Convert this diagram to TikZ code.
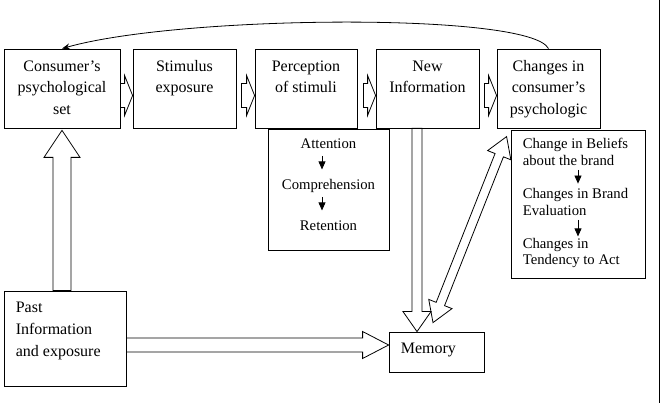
\documentclass[tikz,border=0pt]{standalone}
\usepackage{fontspec}
\setmainfont{Liberation Serif}
\usetikzlibrary{calc,arrows.meta}
\newcommand{\stA}{\rule{0pt}{12pt}}
\newcommand{\stB}{\rule{0pt}{11pt}}
% single-headed hollow block arrow: from, to, shaft half width, head half width, head length
\newcommand{\blkarrow}[5]{%
  \coordinate (bahb) at ($(#2)!#5!(#1)$);
  \draw[blockarrow] ($(#1)!#3!90:(#2)$) -- ($(bahb)!#3!90:(#2)$) -- ($(bahb)!#4!90:(#2)$) -- (#2)
    -- ($(bahb)!#4!-90:(#2)$) -- ($(bahb)!#3!-90:(#2)$) -- ($(#1)!#3!-90:(#2)$) -- cycle;
}
% double-headed hollow block arrow
\newcommand{\dblarrow}[5]{%
  \coordinate (dbha) at ($(#1)!#5!(#2)$);
  \coordinate (dbhb) at ($(#2)!#5!(#1)$);
  \draw[blockarrow] (#1) -- ($(dbha)!#4!90:(#2)$) -- ($(dbha)!#3!90:(#2)$) -- ($(dbhb)!#3!90:(#2)$)
    -- ($(dbhb)!#4!90:(#2)$) -- (#2) -- ($(dbhb)!#4!-90:(#2)$) -- ($(dbhb)!#3!-90:(#2)$)
    -- ($(dbha)!#3!-90:(#2)$) -- ($(dbha)!#4!-90:(#2)$) -- cycle;
}
\begin{document}
\begin{tikzpicture}[x=1pt,y=-1pt,
  mybox/.style={draw, line width=0.8pt, inner sep=0pt},
  ttlc/.style={anchor=north, align=center, inner sep=0pt, font=\fontsize{16}{21.5}\selectfont},
  ttll/.style={anchor=north west, align=left, inner sep=0pt, font=\fontsize{16}{22}\selectfont},
  subc/.style={anchor=base, inner sep=0pt, text height=10pt, text depth=3pt, font=\fontsize{14.7}{16.7}\selectfont},
  subl/.style={anchor=north west, align=left, inner sep=0pt, font=\fontsize{14.7}{16.7}\selectfont},
  blockarrow/.style={draw, line width=0.8pt, line join=miter},
  triarrow/.style={-{Triangle[length=8pt,width=7pt]}, line width=0.8pt},
  backarrow/.style={-{Stealth[length=8pt,width=6pt]}, line width=0.8pt}
]
\useasboundingbox (0,0) rectangle (662,403);

% boxes
\node[mybox, minimum width=116pt, minimum height=79pt] (b1) at (62,88.5) {};
\node[mybox, minimum width=103pt, minimum height=79pt] (b2) at (184.5,88.5) {};
\node[mybox, minimum width=102pt, minimum height=79pt] (b3) at (306,88.5) {};
\node[mybox, minimum width=103pt, minimum height=79pt] (b4) at (427.5,88.5) {};
\node[mybox, minimum width=103pt, minimum height=79pt] (b5) at (548.5,88.5) {};
\node[mybox, minimum width=121pt, minimum height=121pt] (att) at (328.5,189.5) {};
\node[mybox, minimum width=134pt, minimum height=148pt] (ch) at (578,204) {};
\node[mybox, minimum width=122pt, minimum height=95pt] (past) at (65,338.5) {};
\node[mybox, minimum width=95pt, minimum height=40pt] (mem) at (436.5,352) {};

% texts
\node[ttlc] (t1) at ($(b1.north)+(0,10.5)$) {\stA Consumer’s\\psychological\\set};
\node[ttlc] (t2) at ($(b2.north)+(0,10.5)$) {\stA Stimulus\\exposure};
\node[ttlc] (t3) at ($(b3.north)+(0,10.5)$) {\stA Perception\\of stimuli};
\node[ttlc] (t4) at ($(b4.north)+(0,10.5)$) {\stA New\\Information};
\node[ttlc] (t5) at ($(b5.north)+(0,10.5)$) {\stA Changes in\\consumer’s\\psychologic};
\node[ttll] (tp) at ($(past.north west)+(12,10)$) {\stA Past\\Information\\and exposure};
\node[ttll, anchor=base west] (tm) at ($(mem.west)+(12,2)$) {Memory};
\node[subc] (s1) at ($(att.north)+(0,20)$) {Attention};
\node[subc] (s2) at ($(att.north)+(0,61)$) {Comprehension};
\node[subc] (s3) at ($(att.north)+(0,102)$) {Retention};
\node[subl] (c1) at ($(ch.north west)+(12,8)$) {\stB Change in Beliefs\\about the brand};
\node[subl] (c2) at ($(ch.north west)+(12,58)$) {\stB Changes in Brand\\Evaluation};
\node[subl] (c3) at ($(ch.north west)+(12,107.3)$) {\stB Changes in\\Tendency to Act};

% small arrows inside boxes
\coordinate (axa) at ($(att.north)+(-6.5,0)$);
\draw[triarrow, shorten <=4pt, shorten >=10pt] (s1.south -| axa) -- (s2.north -| axa);
\draw[triarrow, shorten <=4pt, shorten >=10pt] (s2.south -| axa) -- (s3.north -| axa);
\draw[triarrow, shorten <=4pt, shorten >=4pt] (c1.south -| ch.north) -- (c2.north -| ch.north);
\draw[triarrow, shorten <=4pt, shorten >=0.5pt] (c2.south -| ch.north) -- (c3.north -| ch.north);

% feedback curve
\draw[backarrow] (b5.north) .. controls (530,12) and (180,15) .. (b1.north);

% block arrows
\coordinate (a1s) at ($(b1.east)+(0,7)$);
\coordinate (a1e) at ($(b2.west)+(0,7)$);
\blkarrow{a1s}{a1e}{12pt}{20pt}{8pt}
\coordinate (a2s) at ($(b2.east)+(5,7)$);
\coordinate (a2e) at ($(b3.west)+(0,7)$);
\blkarrow{a2s}{a2e}{12pt}{20pt}{8pt}
\coordinate (a3s) at ($(b3.east)+(6,7)$);
\coordinate (a3e) at ($(b4.west)+(0,7)$);
\blkarrow{a3s}{a3e}{12pt}{20pt}{8pt}
\coordinate (a4s) at ($(b4.east)+(5,7)$);
\coordinate (a4e) at ($(b5.west)+(0,7)$);
\blkarrow{a4s}{a4e}{12pt}{20pt}{8pt}
\coordinate (a5s) at (past.north -| b1.south);
\coordinate (a5e) at ($(b1.south)+(0,2)$);
\blkarrow{a5s}{a5e}{9pt}{18pt}{27pt}
\coordinate (a6s) at ($(past.east)+(0,6.5)$);
\coordinate (a6e) at ($(mem.west)+(0,-7)$);
\blkarrow{a6s}{a6e}{7pt}{13.5pt}{26pt}
\coordinate (a7s) at ($(b4.south)+(-10.5,0)$);
\coordinate (a7e) at (mem.north -| a7s);
\blkarrow{a7s}{a7e}{5pt}{14pt}{20pt}
\coordinate (a8s) at ($(mem.north)+(-3.5,-9)$);
\coordinate (a8e) at ($(ch.north west)+(-4,7)$);
\dblarrow{a8s}{a8e}{4.5pt}{12.5pt}{20pt}

% right frame line
\coordinate (frt) at (659,0);
\coordinate (frb) at (659,403);
\draw[line width=0.8pt] (frt) -- (frb);
\end{tikzpicture}
\end{document}
